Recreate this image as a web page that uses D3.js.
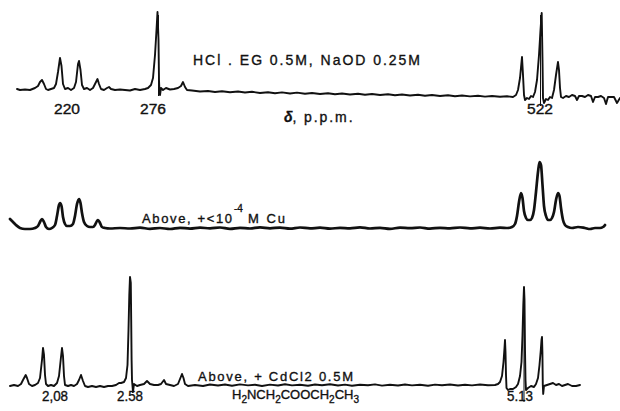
<!DOCTYPE html>
<html>
<head>
<meta charset="utf-8">
<script src="https://cdn.jsdelivr.net/npm/d3@7/dist/d3.min.js"></script>
<style>
  body { margin: 0; background: #fff; }
  svg { display: block; }
  text { font-family: "Liberation Sans", "DejaVu Sans", sans-serif; fill: #111; stroke: #111; stroke-width: 0.35; }
</style>
</head>
<body>
<svg id="chart" width="620" height="411"></svg>
<script>
// sweep position (left -> right) and pen deflection
const topTrace = [[17,6],[20,5],[25,5.5],[30,5],[35,7],[38,9],[40,13],[42,15],[44,11],[46,6],[48,5],[51,6],[54,7],[56,11],[58,23],[60,37],[61.5,29],[63,11],[65,6],[68,7],[71,5],[74,7],[76,13],[78,31],[79,34],[80.5,25],[82,10],[84,6],[87,7],[90,5],[93,7],[95,11],[97.5,16],[99,11],[101,6],[104,5],[107,7],[109,8],[111,6],[115,5],[120,5.5],[125,5],[130,4.5],[135,6],[140,5],[145,6],[148,7],[151,10],[153,17],[155,40],[156.5,65],[157.5,83],[158.5,55],[159,15],[159.5,3],[160,0],[161,7],[163,5],[166,7],[170,5.5],[174,6],[178,7],[181,9],[183,13],[185,8],[187,5],
  [192,4.5],[200,3.5],[208,4],[215,3],[222,3.8],[230,2.8],[238,3.5],[245,2.5],[252,3.2],[260,2],[268,2.8],[275,1.8],[282,2.6],[290,1.5],[297,2.4],[305,1.3],[312,2],[320,1],[328,1.8],[335,0.8],[342,1.5],[350,0.5],[358,1.2],[365,0.3],[372,1],[380,0],[388,0.8],[395,-0.3],[402,0.5],[410,-0.5],[418,0.3],[425,-0.8],[432,0],[440,-1],[448,-0.2],[455,-1.2],[462,-0.5],[470,-1.4],[478,-0.7],[485,-1.6],[492,-1],[500,-1.8],[507,-1.3],[513,-2],
  [516,0],[518,5],[520,17],[522,38],[523,20],[524,0],[525,-5],[527,-3],[529,-4],[531,-1],[533,-2],[535,3],[537,15],[539,40],[540.5,65],[541.7,82],[542.5,35],[543,-3],[544,-8],[546,-4],[548,-5],[550,-2],[552,-3],[554,5],[556,20],[558,33],[559,25],[560,7],[561,-2],[563,-3],[566,-1],[569,-2],[572,0],[575,-1],[577,-5],[579,-1],[582,-1],[585,-2],[588,0],[591,-1],[593,-7],[595,-2],[598,-2],[601,-1],[604,-3],[606,-9],[608,-2],[611,-2],[614,-2],[617,-8],[620,-3]];

const midTrace = [[10,9],[13,6],[16,3],[20,0],[25,-1],[30,-1],[35,0],[38,2],[40,6],[42,9],[44,6],[46,1],[49,-1],[52,0],[55,3],[57,12],[59,23],[60,25],[61.5,22],[63,11],[65,4],[67,2],[70,2],[73,4],[75,12],[77,24],[79,29],[80.5,25],[82,15],[84,6],[87,2],[90,1],[93,1],[95,3],[97,7],[98,8],[100,5],[102,1],[105,0],[110,-0.5],
  [120,0],[130,-0.5],[140,0.3],[150,-0.8],[160,0],[170,-1],[180,0.2],[190,-0.6],[200,0.4],[210,-0.4],[220,0.5],[230,-0.8],[240,0.2],[250,-0.5],[260,0.6],[270,-0.3],[280,0.4],[290,-0.6],[300,0.5],[310,-0.4],[320,0.3],[330,-0.7],[340,0.2],[350,-0.3],[360,0.6],[370,-0.5],[380,0.2],[390,-0.8],[400,0.3],[410,-0.2],[420,0.5],[430,-0.6],[440,0.2],[450,-0.3],[460,0.5],[470,-0.4],[480,0.3],[490,-0.5],[500,0.4],[508,0],
  [512,1],[515,4],[517,12],[519,26],[521,35],[522.5,30],[524,17],[526,10],[528,8],[530,8],[532,10],[534,18],[536,36],[538,56],[539.5,66],[541,63],[542.5,43],[544,22],[546,12],[548,8],[550,8],[552,10],[554,16],[556,28],[558,35],[559.5,32],[561,20],[563,8],[565,3],[568,1],[572,0],[578,1],[585,0],[590,-1],[595,0],[600,0],[603,1],[605,3]];

const lowTrace = [[10,0],[14,1],[18,0],[21,2],[23,6],[25.7,11],[27,8],[29,2],[32,0],[35,1],[38,3],[40,8],[42,26],[43,38],[44,31],[45,11],[46,2],[48,0],[51,1],[54,0],[57,3],[59,10],[61,29],[62,38],[63,30],[64,10],[65,1],[68,0],[71,1],[74,0],[77,2],[79,6],[81,11],[83,5],[85,0],[88,-1],[92,0],[96,-1],[100,0],[104,-1],[108,0],[112,0],[116,1],[119,3],[121,3],[124,4],[126,8],[127.5,21],[128.5,56],[129.3,91],[130,109],[130.8,103],[131.2,66],[131.6,26],[132,6],[133,-6],[133.5,-2],[134,2],[137,0],[140,1],[144,2],[147,5],[150,2],[154,1],[158,1],[161,2],[164,6],[166,2],[170,1],[174,0],[178,2],[180,7],[182,12],[183.5,8],[185,2],[188,0],
  [195,1],[203,0],[210,1.5],[218,0.5],[225,1.5],[232,0.3],[240,1.6],[248,0.6],[255,1.3],[262,0],[270,1.4],[278,0.5],[285,1.8],[292,0.6],[300,1.2],[308,0.2],[315,1.5],[322,0.8],[330,1.8],[338,0.5],[345,1.4],[352,0.3],[360,1.3],[368,0.7],[375,1.6],[382,0.4],[390,1.2],[398,0.5],[405,1.5],[412,0.6],[420,1.3],[428,0.3],[435,1.4],[442,0.8],[450,1.5],[458,0.5],[465,1.2],[472,0.6],[480,1.5],[488,0.7],[495,1],
  [498,2],[500,4],[502,10],[503.5,24],[504.5,38],[505,46],[505.5,34],[506,11],[506.5,-2],[508,-4],[510,-3],[513,-3],[516,-1],[518,2],[520,10],[521.5,24],[522.5,51],[523.3,81],[524,99],[524.5,86],[525,36],[525.5,6],[526,-4],[528,-2],[531,0],[534,-1],[536,2],[538,8],[539.5,21],[540.8,36],[541.5,46],[542,49],[542.4,34],[542.8,1],[543.2,-8],[544,0],[547,1],[550,2],[553,3],[556,1],[559,2],[562,0],[565,1],[568,2],[572,0],[576,0],[580,1]];

// peak marks: sweep position, top and bottom deflection
const topMarks = [[158.5, 80, -1], [540.5, 80, -11]];
const lowMarks = [[132.7, 0, -7], [524, 99, -16]];

// tick labels under the traces
const topTicks = [[67, "220"], [153, "276"], [540, "522"]];
const lowTicks = [[55, "2,08"], [130, "2.58"], [520, "5.13"]];

let width = 620;
let height = 411;
let svg = d3.select("#chart");

let x = d3.scaleLinear().domain([0, 620]).range([0, width]);
let yTop = d3.scaleLinear().domain([0, 100]).range([95, -5]);
let yMid = d3.scaleLinear().domain([0, 100]).range([228, 128]);
let yLow = d3.scaleLinear().domain([0, 100]).range([386, 286]);

function drawTrace(data, y, sw, curve) {
    let line = d3.line()
        .x(d => x(d[0]))
        .y(d => y(d[1]))
        .curve(curve);
    svg.append("path")
        .datum(data)
        .attr("d", line)
        .attr("fill", "none")
        .attr("stroke", "#111")
        .attr("stroke-width", sw)
        .attr("stroke-linejoin", "round")
        .attr("stroke-linecap", "round");
}

function drawMarks(marks, y) {
    svg.selectAll(null)
        .data(marks)
        .enter().append("line")
        .attr("x1", d => x(d[0])).attr("x2", d => x(d[0]))
        .attr("y1", d => y(d[1])).attr("y2", d => y(d[2]))
        .attr("stroke", "#111")
        .attr("stroke-width", 1);
}

function drawTicks(ticks, yPos) {
    svg.selectAll(null)
        .data(ticks)
        .enter().append("text")
        .attr("x", d => x(d[0]))
        .attr("y", yPos)
        .attr("text-anchor", "middle")
        .attr("font-size", 14)
        .attr("textLength", 26)
        .attr("lengthAdjust", "spacingAndGlyphs")
        .text(d => d[1]);
}

function label(txt, x0, y0, size, len) {
    let t = svg.append("text")
        .attr("x", x0)
        .attr("y", y0)
        .attr("font-size", size)
        .text(txt);
    if (len) {
        t.attr("textLength", len).attr("lengthAdjust", "spacing");
    }
    return t;
}

drawTrace(topTrace, yTop, 1.9, d3.curveLinear);
drawTrace(midTrace, yMid, 2.7, d3.curveMonotoneX);
drawTrace(lowTrace, yLow, 1.9, d3.curveLinear);
drawMarks(topMarks, yTop);
drawMarks(lowMarks, yLow);
drawTicks(topTicks, 114);
drawTicks(lowTicks, 401);

label("HCl . EG  0.5M, NaOD  0.25M", 193, 65, 14, 227);
let d = label("", 284, 122, 14);
d.append("tspan").attr("font-style", "italic").attr("font-weight", "bold").text("δ");
d.append("tspan").attr("textLength", 60).attr("lengthAdjust", "spacing").text(", p.p.m.");

label("Above, +<10", 142, 223, 13, 90);
label("-4", 234, 212, 10);
label("M Cu", 248, 223, 13, 37);

label("Above, + CdCl2  0.5M", 198, 381, 13, 155);
let f = svg.append("text").attr("x", 232).attr("y", 403).attr("font-size", 13);
[["H", 0], ["2", 4], ["NCH", 0], ["2", 4], ["COOCH", 0], ["2", 4], ["CH", 0], ["3", 4]].forEach(p => {
    f.append("tspan")
        .attr("dy", p[1] ? p[1] : (f.node().childNodes.length ? -4 : 0))
        .attr("font-size", p[1] ? 10 : 13)
        .text(p[0]);
});
</script>
</body>
</html>
